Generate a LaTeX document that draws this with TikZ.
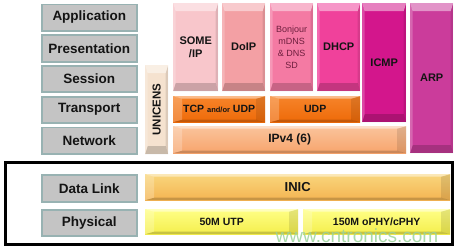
\documentclass[tikz,border=0pt]{standalone}
\usepackage{fontspec}
\setmainfont{Liberation Sans}
\usetikzlibrary{calc}
\definecolor{lblfill}{HTML}{C4C4C4}
\definecolor{lbldraw}{HTML}{98B2B2}
\definecolor{txt}{HTML}{141414}
\definecolor{someip}{HTML}{F8C6CB}
\definecolor{doip}{HTML}{F3A0A4}
\definecolor{bonjour}{HTML}{F47AA3}
\definecolor{bonjourtxt}{HTML}{6E1F3E}
\definecolor{dhcp}{HTML}{F0419B}
\definecolor{icmp}{HTML}{D3168C}
\definecolor{arp}{HTML}{CB3C9B}
\definecolor{orangeT}{HTML}{F6842A}
\definecolor{orangeB}{HTML}{EE6A08}
\definecolor{peachT}{HTML}{FAC49C}
\definecolor{peachB}{HTML}{F7A46C}
\definecolor{cream}{HTML}{F5E2CF}
\definecolor{inicT}{HTML}{F9D67C}
\definecolor{inicB}{HTML}{F4B452}
\definecolor{yelT}{HTML}{FFFF86}
\definecolor{yelB}{HTML}{F4EE4C}
\definecolor{wm}{HTML}{9CD39A}
\tikzset{
  bev/.style 2 args={path picture={
    \path (path picture bounding box.north west) coordinate (pA)
          (path picture bounding box.north east) coordinate (pB)
          (path picture bounding box.south east) coordinate (pC)
          (path picture bounding box.south west) coordinate (pD);
    \coordinate (qA) at ($(pA)+(#1,#2)$);
    \coordinate (qB) at ($(pB)+(-#1,#2)$);
    \coordinate (qC) at ($(pC)+(-#1,-#2)$);
    \coordinate (qD) at ($(pD)+(#1,-#2)$);
    \fill[white,opacity=.45] (pA) -- (pB) -- (qB) -- (qA) -- cycle;
    \fill[white,opacity=.22] (pA) -- (qA) -- (qD) -- (pD) -- cycle;
    \fill[black,opacity=.10] (pB) -- (qB) -- (qC) -- (pC) -- cycle;
    \fill[black,opacity=.18] (pD) -- (qD) -- (qC) -- (pC) -- cycle;
  }},
  hb/.style={bev={9}{2.5}},
  vb/.style={bev={2.5}{8}},
  sz/.style 2 args={minimum width=#1pt, minimum height=#2pt},
  blk/.style={rectangle, inner sep=0pt, anchor=north west, align=center,
    text=txt, font=\bfseries\fontsize{11}{13}\selectfont},
  lbl/.style={blk, fill=lblfill, draw=lbldraw, line width=1.5pt,
    font=\bfseries\fontsize{13.5}{15}\selectfont},
}
\begin{document}
\begin{tikzpicture}[x=1pt,y=-1pt]
\useasboundingbox (0,0) rectangle (459,250);
\fill[white] (0,0) rectangle (459,250);
% OSI labels
\node[lbl, sz={95}{26.5}] (app)   at (41,3.5)  {Application};
\node[lbl, sz={95}{27}]   (pres)  at (41,34)   {Presentation};
\node[lbl, sz={95}{26}]   (sess)  at (41,65)   {Session};
\node[lbl, sz={95}{26}]   (trans) at (41,96)   {Transport};
\node[lbl, sz={95}{26.5}] (net)   at (41,126.5){Network};
\node[lbl, sz={95}{27}]   (dl)    at (41,174)  {Data Link};
\node[lbl, sz={95}{26}]   (phys)  at (41,209)  {Physical};
% UNICENS
\node[blk, vb, sz={23}{89}, fill=cream] (uni) at (145,65) {};
\node[font=\bfseries\fontsize{11.5}{13}\selectfont, text=txt, rotate=90] at (uni.center) {UNICENS};
% application protocols
\node[blk, vb, sz={45}{88}, fill=someip] (some) at (173,3) {SOME\\/IP};
\node[blk, vb, sz={43}{88}, fill=doip] (doip) at (222,3) {DoIP};
\node[blk, vb, sz={43}{88}, fill=bonjour, text=bonjourtxt,
      font=\fontsize{9}{12}\selectfont] (bon) at (270,3) {Bonjour\\mDNS\\\& DNS\\SD};
\node[blk, vb, sz={43}{88}, fill=dhcp] (dhcp) at (317,3) {DHCP};
\node[blk, vb, sz={44}{119}, fill=icmp] (icmp) at (362,3) {ICMP};
\node[blk, vb, sz={43}{150}, fill=arp] (arp) at (410,3) {ARP};
% transport
\node[blk, hb, sz={92}{26}, top color=orangeT, bottom color=orangeB,
      font=\bfseries\fontsize{10.5}{12}\selectfont] (tcp) at (173,96)
      {TCP {\fontsize{7.5}{9}\selectfont and/or} UDP};
\node[blk, hb, sz={90}{26}, top color=orangeT, bottom color=orangeB,
      font=\bfseries\fontsize{10.5}{12}\selectfont] (udp) at (270,96) {UDP};
% network
\node[blk, hb, sz={233}{27}, top color=peachT, bottom color=peachB,
      font=\bfseries\fontsize{12}{14}\selectfont] (ipv4) at (173,126) {IPv4 (6)};
% link / physical
\node[blk, hb, sz={305}{26}, top color=inicT, bottom color=inicB,
      font=\bfseries\fontsize{13}{15}\selectfont] (inic) at (145,174) {INIC};
\node[blk, hb, sz={153}{25}, top color=yelT, bottom color=yelB,
      font=\bfseries\fontsize{10.5}{12}\selectfont] (utp) at (145,209) {50M UTP};
\node[blk, hb, sz={147}{25}, top color=yelT, bottom color=yelB,
      font=\bfseries\fontsize{10.5}{12}\selectfont] (ophy) at (303,209) {150M oPHY/cPHY};
% frame
\draw[black, line width=3pt] (5,162.5) rectangle (452.5,244.5);
% watermark
\node[text=wm, opacity=.85, font=\fontsize{19}{19}\selectfont] (wmark) at (357,236) {www.cntronics.com};
\end{tikzpicture}
\end{document}
